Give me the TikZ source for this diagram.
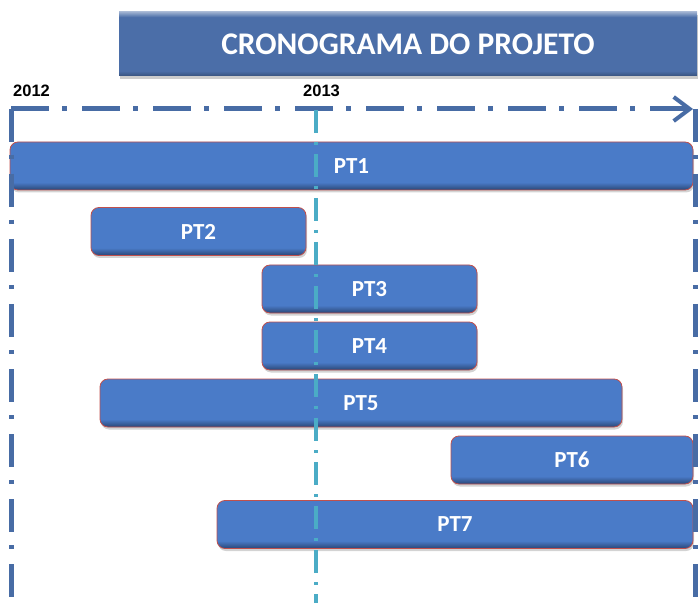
\documentclass[tikz,border=0pt]{standalone}
\usepackage{fontspec}
\setmainfont{Carlito}
\newfontfamily\yearfont{Liberation Sans}
\usetikzlibrary{arrows.meta,shadows}

\definecolor{titleblue}{RGB}{75,110,168}
\definecolor{barblue}{RGB}{74,123,200}
\definecolor{bardark}{RGB}{42,70,118}
\definecolor{barred}{RGB}{192,80,77}
\definecolor{axisblue}{RGB}{72,108,165}
\definecolor{midteal}{RGB}{75,172,198}

\pgfdeclareverticalshading{barshade}{100bp}{color(0bp)=(bardark); color(25bp)=(bardark); color(33bp)=(barblue); color(100bp)=(barblue)}
\pgfdeclareverticalshading{titleshade}{100bp}{color(0bp)=(titleblue!75!black); color(25bp)=(titleblue!75!black); color(29bp)=(titleblue); color(71bp)=(titleblue); color(75bp)=(titleblue!55!white); color(100bp)=(titleblue!55!white)}

\begin{document}
\begin{tikzpicture}[
        x=1pt, y=1pt,
        bar/.style={shade, shading=barshade, draw=barred, line width=0.8pt, rounded corners=8pt,
            minimum height=48pt, inner sep=0pt, text=white,
            font=\fontsize{23}{23}\selectfont\bfseries,
            drop shadow={shadow xshift=1pt, shadow yshift=-2.5pt, opacity=0.35}},
        titlebox/.style={shade, shading=titleshade, minimum width=578pt, minimum height=64pt,
            inner sep=0pt, text=white, font=\fontsize{31.5}{32}\selectfont\bfseries,
            drop shadow={shadow xshift=1pt, shadow yshift=-3pt, opacity=0.4}},
        year/.style={inner sep=0pt, font=\yearfont\fontsize{16.5}{16.5}\selectfont\bfseries},
        haxis/.style={draw=axisblue, line width=5pt, dash pattern=on 38pt off 13pt on 5pt off 15pt},
        vaxis/.style={draw=axisblue, line width=5pt, dash pattern=on 33pt off 13pt on 4pt off 15pt},
        midline/.style={draw=midteal, line width=3.5pt, dash pattern=on 23pt off 9pt on 3pt off 9pt}
    ]

    \useasboundingbox (0,0) rectangle (698,603);

    \node[titlebox] (title) at (408,559) {CRONOGRAMA DO PROJETO};

    \node[year, anchor=base west] (y2012) at (13,506) {2012};
    \node[year, anchor=base west] (y2013) at (303,506) {2013};

    % work packages
    \foreach \n/\cx/\cy/\w in {1/351.5/437/683, 2/198.5/371.5/215, 3/369.5/314/215,
            4/369.5/257/215, 5/361/200/522, 6/572/143/242, 7/455/78.5/476}
        \node[bar, minimum width=\w pt] (pt\n) at (\cx,\cy) {PT\n};

    \coordinate (orig) at (11,494);
    \coordinate (tip) at (693,494);
    \coordinate (lbot) at (11,0);
    \coordinate (rtop) at (695,494);
    \coordinate (rbot) at (695,0);
    \coordinate (mtop) at (316,493);
    \coordinate (mbot) at (316,0);

    \draw[vaxis] (orig) -- (lbot);
    \draw[haxis, -{Straight Barb[length=16pt, width=24pt, line width=4pt]}] (orig) -- (tip);
    \draw[vaxis] (rtop) -- (rbot);
    \draw[midline] (mtop) -- (mbot);

\end{tikzpicture}
\end{document}
